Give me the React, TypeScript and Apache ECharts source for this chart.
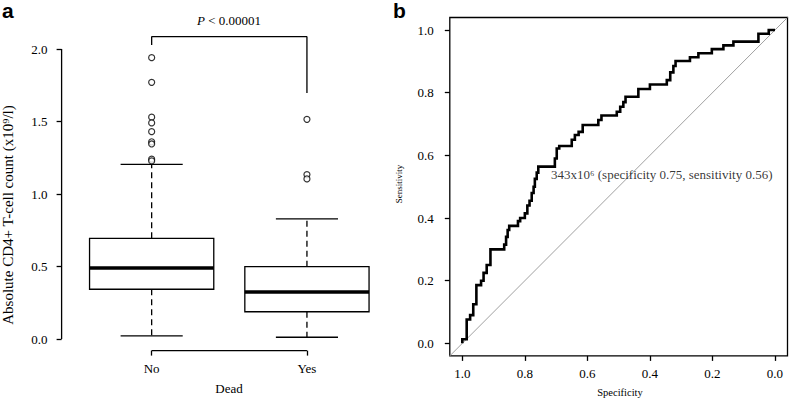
import React, { useEffect, useRef } from 'react';
import * as echarts from 'echarts';

// ---------- Panel a: box plot ----------
const groups = ['No', 'Yes'];
const boxMin = [0.021, 0.012];
const boxQ1 = [0.343, 0.188];
const boxMedian = [0.49, 0.324];
const boxQ3 = [0.694, 0.499];
const boxMax = [1.205, 0.828];
const outliersNo = [1.94, 1.77, 1.53, 1.49, 1.43, 1.36, 1.345, 1.24, 1.228];
const outliersYes = [1.515, 1.134, 1.104];
const yTicksA = [0, 0.5, 1, 1.5, 2];
const xTicksA = [1, 2];
const bracketX = [1, 1, 2, 2];
const bracketY = [2.028, 2.085, 2.085, 1.697];
const pValueText = '{it|P} < 0.00001';

// ---------- Panel b: ROC curve ----------
const rocSpecificity = [
  1.0, 1.0, 0.986, 0.986, 0.975, 0.975, 0.965, 0.965, 0.955, 0.955, 0.94, 0.94, 0.932, 0.932, 0.922, 0.922,
  0.91, 0.91, 0.866, 0.866, 0.86, 0.86, 0.855, 0.855, 0.85, 0.85, 0.822, 0.822, 0.815, 0.815, 0.8, 0.8,
  0.792, 0.792, 0.785, 0.785, 0.778, 0.778, 0.772, 0.772, 0.768, 0.768, 0.762, 0.762, 0.757, 0.757,
  0.704, 0.704, 0.698, 0.698, 0.69, 0.69, 0.65, 0.65, 0.64, 0.64, 0.628, 0.628, 0.615, 0.615, 0.565, 0.565,
  0.555, 0.555, 0.506, 0.506, 0.495, 0.495, 0.485, 0.485, 0.478, 0.478, 0.437, 0.437, 0.4, 0.4, 0.346, 0.346,
  0.335, 0.335, 0.325, 0.325, 0.318, 0.318, 0.272, 0.272, 0.245, 0.245, 0.202, 0.202, 0.165, 0.165,
  0.133, 0.133, 0.053, 0.053, 0.02, 0.02, 0.0,
];
const rocSensitivity = [
  0.0, 0.013, 0.013, 0.076, 0.076, 0.09, 0.09, 0.125, 0.125, 0.186, 0.186, 0.2, 0.2, 0.225, 0.225, 0.25,
  0.25, 0.3, 0.3, 0.315, 0.315, 0.34, 0.34, 0.362, 0.362, 0.375, 0.375, 0.39, 0.39, 0.4, 0.4, 0.415,
  0.415, 0.44, 0.44, 0.455, 0.455, 0.48, 0.48, 0.5, 0.5, 0.525, 0.525, 0.545, 0.545, 0.564,
  0.564, 0.59, 0.59, 0.622, 0.622, 0.63, 0.63, 0.65, 0.65, 0.665, 0.665, 0.675, 0.675, 0.697, 0.697, 0.713,
  0.713, 0.727, 0.727, 0.739, 0.739, 0.755, 0.755, 0.77, 0.77, 0.787, 0.787, 0.812, 0.812, 0.826, 0.826, 0.84,
  0.84, 0.865, 0.865, 0.885, 0.885, 0.901, 0.901, 0.913, 0.913, 0.926, 0.926, 0.939, 0.939, 0.951,
  0.951, 0.963, 0.963, 0.988, 0.988, 1.0, 1.0,
];
const rocTicks = [0, 0.2, 0.4, 0.6, 0.8, 1.0];
const cutoffPoint = [0.75, 0.56];
const cutoffLabel = '343x10⁶ (specificity 0.75, sensitivity 0.56)';
const refLineX = [1.04, -0.04];
const refLineY = [-0.04, 1.04];

// axis ranges (R-style 4% extension)
const aXMin = 0.42;
const aXMax = 2.58;
const aYMin = -0.08;
const aYMax = 2.14;
const bMin = -0.04;
const bMax = 1.04;

const SERIF = '"Liberation Serif", "Times New Roman", serif';
const SANS = '"Liberation Sans", Arial, sans-serif';

export default function App() {
  const ref = useRef<HTMLDivElement>(null);

  useEffect(() => {
    const chart = echarts.init(ref.current!, null, { renderer: 'svg' });
    const boxWidth = 0.8;
    const capWidth = 0.4;

    const boxData = groups.map((_, i) => [i + 1, boxMin[i], boxQ1[i], boxMedian[i], boxQ3[i], boxMax[i]]);
    const outlierData = [
      ...outliersNo.map((v) => [1, v]),
      ...outliersYes.map((v) => [2, v]),
    ];
    const rocData = rocSpecificity.map((s, i) => [s, rocSensitivity[i]]);
    const bracketData = bracketX.map((x, i) => [x, bracketY[i]]);

    const tickLabel = { fontFamily: SERIF, fontSize: 13, color: '#000' };
    const tickStyle = { color: '#000', width: 1.3 };

    const option: any = {
      animation: false,
      backgroundColor: '#fff',
      grid: [
        { left: 61.6, top: 28.7, width: 335.4, height: 321.9, show: false },
        {
          left: 449.8, top: 17.5, width: 337.7, height: 338.4, show: true,
          borderColor: '#000', borderWidth: 1.3, backgroundColor: 'transparent',
        },
      ],
      xAxis: [
        {
          gridIndex: 0, type: 'value', min: aXMin, max: aXMax, position: 'bottom',
          axisLine: { show: false, onZero: false }, splitLine: { show: false },
          axisTick: { show: true, customValues: xTicksA, length: 5, lineStyle: tickStyle },
          axisLabel: {
            ...tickLabel, customValues: xTicksA, margin: 11,
            formatter: (v: number) => groups[Math.round(v) - 1],
          },
        },
        {
          gridIndex: 1, type: 'value', min: bMin, max: bMax, inverse: true, position: 'bottom',
          axisLine: { show: false, onZero: false }, splitLine: { show: false },
          axisTick: { show: true, customValues: rocTicks, length: 5, lineStyle: tickStyle },
          axisLabel: {
            ...tickLabel, customValues: rocTicks, margin: 11,
            formatter: (v: number) => v.toFixed(1),
          },
        },
      ],
      yAxis: [
        {
          gridIndex: 0, type: 'value', min: aYMin, max: aYMax, position: 'left',
          axisLine: { show: false, onZero: false }, splitLine: { show: false },
          axisTick: { show: true, customValues: yTicksA, length: 5, lineStyle: tickStyle },
          axisLabel: {
            ...tickLabel, customValues: yTicksA, margin: 14,
            formatter: (v: number) => v.toFixed(1),
          },
        },
        {
          gridIndex: 1, type: 'value', min: bMin, max: bMax, position: 'left',
          axisLine: { show: false, onZero: false }, splitLine: { show: false },
          axisTick: { show: true, customValues: rocTicks, length: 5, lineStyle: tickStyle },
          axisLabel: {
            ...tickLabel, customValues: rocTicks, margin: 16,
            formatter: (v: number) => v.toFixed(1),
          },
        },
      ],
      graphic: [
        { type: 'text', left: 2, top: 0, style: { text: 'a', fontFamily: SANS, fontWeight: 'bold', fontSize: 21, fill: '#000' } },
        { type: 'text', left: 393, top: 0, style: { text: 'b', fontFamily: SANS, fontWeight: 'bold', fontSize: 21, fill: '#000' } },
        {
          type: 'text', x: 229, y: 20,
          style: {
            text: pValueText, fontFamily: SERIF, fontSize: 13, fill: '#000', align: 'center', verticalAlign: 'middle',
            rich: { it: { fontStyle: 'italic', fontFamily: SERIF, fontSize: 13 } },
          },
        },
        {
          type: 'text', x: 8, y: 215, rotation: Math.PI / 2,
          style: {
            text: 'Absolute CD4+ T-cell count (x10⁹/l)', fontFamily: SERIF, fontSize: 15, fill: '#000',
            align: 'center', verticalAlign: 'middle',
          },
        },
        {
          type: 'text', x: 229, y: 388,
          style: { text: 'Dead', fontFamily: SERIF, fontSize: 13, fill: '#000', align: 'center', verticalAlign: 'middle' },
        },
        {
          type: 'text', x: 399, y: 184, rotation: Math.PI / 2,
          style: { text: 'Sensitivity', fontFamily: SERIF, fontSize: 9, fill: '#000', align: 'center', verticalAlign: 'middle' },
        },
        {
          type: 'text', x: 620, y: 392,
          style: { text: 'Specificity', fontFamily: SERIF, fontSize: 10.5, fill: '#000', align: 'center', verticalAlign: 'middle' },
        },
      ],
      series: [
        // y-axis spine (0 to 2.0)
        {
          type: 'line', xAxisIndex: 0, yAxisIndex: 0, symbol: 'none', silent: true, clip: false,
          data: [[aXMin, yTicksA[0]], [aXMin, yTicksA[yTicksA.length - 1]]],
          lineStyle: { color: '#000', width: 1.3 },
        },
        // x-axis spine (No to Yes)
        {
          type: 'line', xAxisIndex: 0, yAxisIndex: 0, symbol: 'none', silent: true, clip: false,
          data: [[xTicksA[0], aYMin], [xTicksA[xTicksA.length - 1], aYMin]],
          lineStyle: { color: '#000', width: 1.3 },
        },
        // boxes
        {
          type: 'custom', xAxisIndex: 0, yAxisIndex: 0, silent: true,
          data: boxData,
          renderItem: (params: any, api: any) => {
            const x = api.value(0);
            const lo = api.value(1);
            const q1 = api.value(2);
            const med = api.value(3);
            const q3 = api.value(4);
            const hi = api.value(5);
            const tl = api.coord([x - boxWidth / 2, q3]);
            const br = api.coord([x + boxWidth / 2, q1]);
            const ml = api.coord([x - boxWidth / 2, med]);
            const mr = api.coord([x + boxWidth / 2, med]);
            const c = api.coord([x, 0])[0];
            const yHi = api.coord([x, hi])[1];
            const yLo = api.coord([x, lo])[1];
            const capL = api.coord([x - capWidth / 2, 0])[0];
            const capR = api.coord([x + capWidth / 2, 0])[0];
            const stroke = { stroke: '#000', lineWidth: 1.3, fill: 'none' };
            const dash = { stroke: '#000', lineWidth: 1.3, lineDash: [6, 4] };
            return {
              type: 'group',
              children: [
                { type: 'line', shape: { x1: c, y1: tl[1], x2: c, y2: yHi }, style: dash },
                { type: 'line', shape: { x1: c, y1: br[1], x2: c, y2: yLo }, style: dash },
                { type: 'line', shape: { x1: capL, y1: yHi, x2: capR, y2: yHi }, style: stroke },
                { type: 'line', shape: { x1: capL, y1: yLo, x2: capR, y2: yLo }, style: stroke },
                {
                  type: 'rect',
                  shape: { x: tl[0], y: tl[1], width: br[0] - tl[0], height: br[1] - tl[1] },
                  style: { stroke: '#000', lineWidth: 1.3, fill: '#fff' },
                },
                { type: 'line', shape: { x1: ml[0], y1: ml[1], x2: mr[0], y2: mr[1] }, style: { stroke: '#000', lineWidth: 3.5 } },
              ],
            };
          },
        },
        // outliers
        {
          type: 'scatter', xAxisIndex: 0, yAxisIndex: 0, silent: true,
          data: outlierData, symbol: 'circle', symbolSize: 6,
          itemStyle: { color: '#fff', borderColor: '#000', borderWidth: 1.2 },
        },
        // significance bracket
        {
          type: 'line', xAxisIndex: 0, yAxisIndex: 0, symbol: 'none', silent: true, clip: false,
          data: bracketData, lineStyle: { color: '#000', width: 1.3 },
        },
        // diagonal reference line
        {
          type: 'line', xAxisIndex: 1, yAxisIndex: 1, symbol: 'none', silent: true,
          data: refLineX.map((x, i) => [x, refLineY[i]]),
          lineStyle: { color: '#a0a0a0', width: 1 }, z: 1,
        },
        // ROC curve
        {
          type: 'line', xAxisIndex: 1, yAxisIndex: 1, symbol: 'none', silent: true,
          data: rocData, lineStyle: { color: '#000', width: 2.6, join: 'miter' }, z: 3,
        },
        // cutoff annotation
        {
          type: 'scatter', xAxisIndex: 1, yAxisIndex: 1, silent: true,
          data: [cutoffPoint], symbolSize: 1, itemStyle: { color: 'rgba(0,0,0,0)' },
          label: {
            show: true, position: 'right', distance: 10, offset: [0, 7],
            formatter: cutoffLabel, fontFamily: SERIF, fontSize: 13, color: '#000',
          },
          z: 4,
        },
      ],
    };

    chart.setOption(option);
    return () => chart.dispose();
  }, []);

  return (
    <div
      ref={ref}
      style={{ position: 'absolute', left: 0, top: 0, width: 790, height: 403, background: '#fff' }}
    />
  );
}
